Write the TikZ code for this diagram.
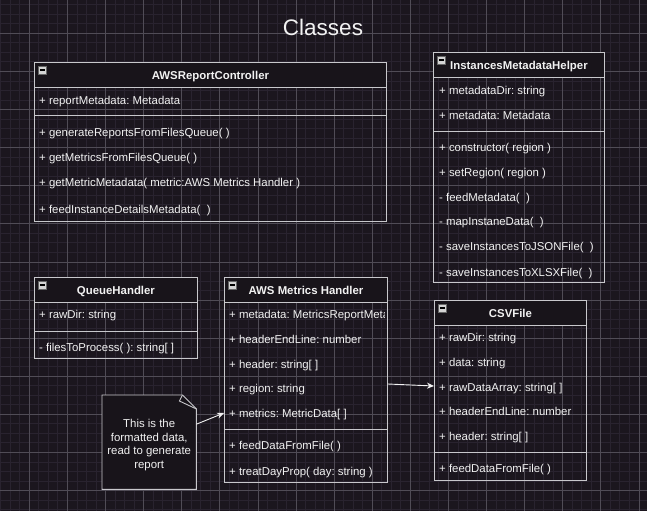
\documentclass[tikz,border=0pt]{standalone}
\usepackage{fontspec}
\setmainfont{Liberation Sans}
\usetikzlibrary{arrows.meta}
\frenchspacing

\definecolor{bgcol}{RGB}{27,22,30}
\definecolor{minorcol}{RGB}{41,35,47}
\definecolor{majorcol}{RGB}{80,76,86}
\definecolor{headfill}{RGB}{24,20,26}
\definecolor{boxline}{RGB}{200,200,204}
\definecolor{txt}{RGB}{242,242,242}
\definecolor{icongray}{RGB}{212,212,212}

\begin{document}
\begin{tikzpicture}[x=1pt, y=-1pt,
    minor grid/.style={draw=minorcol, line width=0.8pt},
    major grid/.style={draw=majorcol, line width=0.8pt},
    class box/.style={draw=boxline, line width=0.9pt, anchor=north west, inner sep=0pt},
    head box/.style={class box, fill=headfill, text=txt, text height=10pt, text depth=1pt,
                     font=\fontsize{11.4}{13}\selectfont\bfseries, minimum height=25pt},
    icon/.style={draw=black!60, fill=icongray, anchor=north west, minimum size=7.5pt, inner sep=0pt},
    minus/.style={draw=black, line width=1.1pt},
    sep/.style={draw=boxline, line width=0.9pt},
    member/.style={anchor=base west, yshift=-4pt, inner sep=0pt, text=txt,
                   font=\fontsize{11.4}{13}\selectfont},
    note box/.style={anchor=north west, minimum width=94pt, minimum height=94pt,
                     inner sep=0pt, align=center, text=txt, font=\fontsize{11.4}{13.6}\selectfont},
    link/.style={draw=txt, line width=0.9pt, -{Stealth[length=7pt,width=6pt]}}]

  \useasboundingbox (0,0) rectangle (647,511);
  \fill[bgcol] (0,0) rectangle (647,511);

  % background grid
  \foreach \i in {0,...,67}
    \draw[minor grid] ({0.725+9.525*\i},0) -- ({0.725+9.525*\i},511);
  \foreach \j in {0,...,53}
    \draw[minor grid] (0,{4.725+9.525*\j}) -- (647,{4.725+9.525*\j});
  \foreach \i in {0,...,16}
    \draw[major grid] ({29.3+38.1*\i},0) -- ({29.3+38.1*\i},511);
  \foreach \j in {0,...,12}
    \draw[major grid] (0,{33.3+38.1*\j}) -- (647,{33.3+38.1*\j});

  \node[text=txt, font=\fontsize{22.5}{26}\selectfont] (title) at (323,27.5) {Classes};

  % AWSReportController
  \node[class box, minimum width=352pt, minimum height=159pt] (arc) at (34,62) {};
  \node[head box, minimum width=352pt] (arch) at (34,62) {AWSReportController};
  \node[icon] (arci) at ([shift={(4.3,4)}]arc.north west) {};
  \draw[minus] ([xshift=1.6pt]arci.west) -- ([xshift=-1.6pt]arci.east);
  \draw[sep] ([yshift=-53pt]arc.north west) -- ([yshift=-53pt]arc.north east);
  \node[member] (arc1) at (39,100) {+ reportMetadata: Metadata};
  \node[member] (arc2) at (39,132) {+ generateReportsFromFilesQueue( )};
  \node[member] (arc3) at (39,157) {+ getMetricsFromFilesQueue( )};
  \node[member] (arc4) at (39,182) {+ getMetricMetadata( metric:AWS Metrics Handler )};
  \node[member] (arc5) at (39,209) {+ feedInstanceDetailsMetadata(~~)};

  % InstancesMetadataHelper
  \node[class box, minimum width=171pt, minimum height=230pt] (imh) at (433,52) {};
  \node[head box, minimum width=171pt] (imhh) at (433,52) {InstancesMetadataHelper};
  \node[icon] (imhi) at ([shift={(4.3,4)}]imh.north west) {};
  \draw[minus] ([xshift=1.6pt]imhi.west) -- ([xshift=-1.6pt]imhi.east);
  \draw[sep] ([yshift=-79pt]imh.north west) -- ([yshift=-79pt]imh.north east);
  \node[member] (imh1) at (439,90) {+ metadataDir: string};
  \node[member] (imh2) at (439,115) {+ metadata: Metadata};
  \node[member] (imh3) at (439,147) {+ constructor( region )};
  \node[member] (imh4) at (439,172) {+ setRegion( region )};
  \node[member] (imh5) at (439,197) {- feedMetadata(~~)};
  \node[member] (imh6) at (439,221) {- mapInstaneData(~~)};
  \node[member] (imh7) at (439,246) {- saveInstancesToJSONFile(~~)};
  \node[member] (imh8) at (439,272) {- saveInstancesToXLSXFile(~~)};

  % QueueHandler
  \node[class box, minimum width=163pt, minimum height=81pt] (qh) at (34,277) {};
  \node[head box, minimum width=163pt] (qhh) at (34,277) {QueueHandler};
  \node[icon] (qhi) at ([shift={(4.3,4)}]qh.north west) {};
  \draw[minus] ([xshift=1.6pt]qhi.west) -- ([xshift=-1.6pt]qhi.east);
  \draw[sep] ([yshift=-54pt]qh.north west) -- ([yshift=-54pt]qh.north east);
  \node[member] (qh1) at (39,314) {+ rawDir: string};
  \node[member] (qh2) at (39,347) {- filesToProcess( ): string[ ]};

  % AWS Metrics Handler
  \node[class box, minimum width=163pt, minimum height=205pt] (mh) at (224,277) {};
  \node[head box, minimum width=163pt] (mhh) at (224,277) {AWS Metrics Handler};
  \node[icon] (mhi) at ([shift={(4.3,4)}]mh.north west) {};
  \draw[minus] ([xshift=1.6pt]mhi.west) -- ([xshift=-1.6pt]mhi.east);
  \draw[sep] ([yshift=-152pt]mh.north west) -- ([yshift=-152pt]mh.north east);
  \begin{scope}
    \clip (mh.north west) rectangle ([xshift=-3pt]mh.south east);
    \node[member] (mh1) at (229,314) {+ metadata: MetricsReportMetadata};
  \end{scope}
  \node[member] (mh2) at (229,339) {+ headerEndLine: number};
  \node[member] (mh3) at (229,364) {+ header: string[ ]};
  \node[member] (mh4) at (229,388) {+ region: string};
  \node[member] (mh5) at (229,413) {+ metrics: MetricData[ ]};
  \node[member] (mh6) at (229,445) {+ feedDataFromFile( )};
  \node[member] (mh7) at (229,471) {+ treatDayProp( day: string )};

  % CSVFile
  \node[class box, minimum width=152pt, minimum height=180pt] (csv) at (434,300) {};
  \node[head box, minimum width=152pt] (csvh) at (434,300) {CSVFile};
  \node[icon] (csvi) at ([shift={(4.3,4)}]csv.north west) {};
  \draw[minus] ([xshift=1.6pt]csvi.west) -- ([xshift=-1.6pt]csvi.east);
  \draw[sep] ([yshift=-152pt]csv.north west) -- ([yshift=-152pt]csv.north east);
  \node[member] (csv1) at (439,337) {+ rawDir: string};
  \node[member] (csv2) at (439,362) {+ data: string};
  \node[member] (csv3) at (439,387) {+ rawDataArray: string[ ]};
  \node[member] (csv4) at (439,411) {+ headerEndLine: number};
  \node[member] (csv5) at (439,436) {+ header: string[ ]};
  \node[member] (csv6) at (439,468) {+ feedDataFromFile( )};

  % note
  \node[note box] (note) at (102,395) {};
  \filldraw[fill=headfill, draw=boxline, line width=0.9pt]
    (note.north west) -- ([xshift=-14pt]note.north east) -- ([yshift=-14pt]note.north east)
    -- (note.south east) -- (note.south west) -- cycle;
  \draw[boxline, line width=0.9pt] ([xshift=-14pt]note.north east)
    -- ([xshift=-17pt,yshift=-6pt]note.north east) -- ([yshift=-14pt]note.north east);
  \node[note box] (notetext) at (102,398) {This is the\\formatted data,\\read to generate\\report};

  % connectors
  \draw[link] ([yshift=18pt]note.east) -- ([yshift=4pt]mh.west |- mh5.base west);
  \draw[link] ([yshift=8pt]mh.east |- mh4.base west) -- ([yshift=5pt]csv.west |- csv3.base west);
\end{tikzpicture}
\end{document}
